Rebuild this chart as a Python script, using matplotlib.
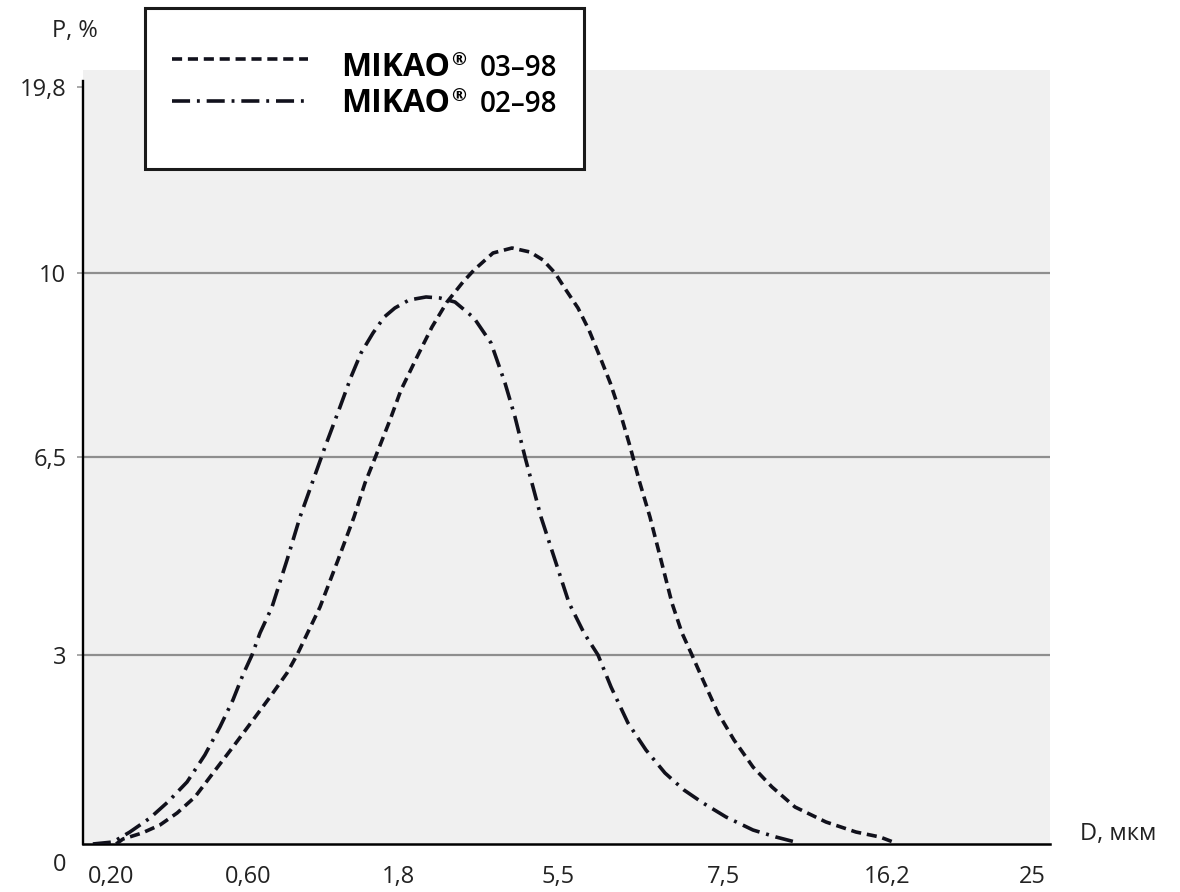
import numpy as np
import matplotlib
matplotlib.use("Agg")
import matplotlib.pyplot as plt
from matplotlib.scale import FuncScale
from matplotlib.patches import Rectangle
from matplotlib.lines import Line2D

plt.rcParams['font.family'] = ['Open Sans', 'DejaVu Sans']

# ---------------- data ----------------
x_tick_values = [0.20, 0.60, 1.8, 5.5, 7.5, 16.2, 25]
x_tick_labels = ["0,20", "0,60", "1,8", "5,5", "7,5", "16,2", "25"]
y_tick_values = [3, 6.5, 10, 19.8]
y_tick_labels = ["3", "6,5", "10", "19,8"]
grid_values = [3, 6.5, 10]

series_names = ["03–98", "02–98"]

d_03_98 = [0.215, 0.235, 0.291, 0.343, 0.393, 0.445, 0.498, 0.556, 0.64, 0.776,
           0.912, 0.992, 1.176, 1.32, 1.448, 1.536, 1.632, 1.736, 1.869, 2.239,
           2.586, 2.933, 3.303, 3.558, 3.997, 4.436, 4.853, 5.153, 5.431, 5.596,
           5.741, 5.873, 6.006, 6.130, 6.250, 6.370, 6.476, 6.608, 6.741, 6.873,
           6.994, 7.114, 7.247, 7.428, 8.034, 9.048, 10.062, 11.290, 12.944,
           14.545, 15.826, 16.686]
p_03_98 = [0.0, 0.079, 0.175, 0.302, 0.492, 0.746, 1.127, 1.540, 1.968, 2.333,
           2.714, 3.0, 3.848, 4.679, 5.439, 6.040, 6.576, 7.204, 7.774, 8.402,
           8.973, 9.448, 9.829, 10.158, 11.054, 11.317, 11.106, 10.685, 10.0, 9.677,
           9.334, 8.916, 8.402, 7.908, 7.337, 6.690, 6.093, 5.439, 4.679, 3.919,
           3.389, 3.0, 2.603, 2.079, 1.651, 1.222, 0.905, 0.587, 0.349,
           0.190, 0.111, 0.02]

d_02_98 = [0.147, 0.206, 0.255, 0.314, 0.366, 0.422, 0.474, 0.518, 0.556, 0.585,
           0.632, 0.696, 0.792, 0.912, 1.016, 1.216, 1.336, 1.424, 1.504, 1.600,
           1.690, 1.775, 2.054, 2.448, 2.771, 3.118, 3.558, 3.951, 4.274, 4.506,
           4.737, 4.922, 5.107, 5.431, 5.633, 5.813, 5.982, 6.139, 6.343, 6.560,
           6.789, 7.018, 7.247, 7.607, 9.048, 10.275, 11.503]
p_02_98 = [0.0, 0.032, 0.190, 0.413, 0.667, 0.984, 1.413, 1.857, 2.286, 2.683,
           3.0, 3.389, 3.848, 4.679, 5.439, 6.690, 7.451, 8.022, 8.478, 8.859,
           9.163, 9.334, 9.486, 9.544, 9.524, 9.448, 9.144, 8.669, 7.908, 7.261,
           6.5, 5.970, 5.439, 4.679, 3.919, 3.389, 3.0, 2.492, 1.921, 1.492,
           1.127, 0.857, 0.651, 0.429, 0.222, 0.111, 0.016]

# ---------------- layout (pixel geometry of the reference) ----------------
W, H = 1180, 892
X_TICK_POS = [111, 248, 398, 558, 724, 887, 1032]   # px of x ticks
Y_TICK_POS = [844, 655, 457, 273, 87]               # px of y = 0,3,6.5,10,19.8
AX_L, AX_R, AX_T, AX_B = 83, 1050, 70, 844


def piecewise(xk, yk):
    xk = np.asarray(xk, float)
    yk = np.asarray(yk, float)
    s0 = (yk[1] - yk[0]) / (xk[1] - xk[0])
    s1 = (yk[-1] - yk[-2]) / (xk[-1] - xk[-2])

    def f(v):
        v = np.asarray(v, float)
        out = np.interp(v, xk, yk)
        out = np.where(v < xk[0], yk[0] + (v - xk[0]) * s0, out)
        out = np.where(v > xk[-1], yk[-1] + (v - xk[-1]) * s1, out)
        return out
    return f


x_fwd = piecewise(x_tick_values, X_TICK_POS)
x_inv = piecewise(X_TICK_POS, x_tick_values)
y_vals_all = [0] + y_tick_values
y_h = [AX_B - p for p in Y_TICK_POS]
y_fwd = piecewise(y_vals_all, y_h)
y_inv = piecewise(y_h, y_vals_all)

fig = plt.figure(figsize=(W / 100, H / 100), dpi=100)
fig.patch.set_facecolor("white")
ax = fig.add_axes([AX_L / W, 1 - AX_B / H, (AX_R - AX_L) / W, (AX_B - AX_T) / H])
ax.set_facecolor("#f0f0f0")

ax.set_xscale(FuncScale(ax.xaxis, (x_fwd, x_inv)))
ax.set_yscale(FuncScale(ax.yaxis, (y_fwd, y_inv)))
ax.set_xlim(float(x_inv(AX_L)), float(x_inv(AX_R)))
ax.set_ylim(0, float(y_inv(AX_B - AX_T)))

for g in grid_values:
    ax.axhline(g, color="#8e8e8e", lw=1.6, zorder=1)

line_color = "#11111c"
lw = 2.6
ls_dash = (0, (2.8, 1.6))
ls_dashdot = (0, (5.0, 1.9, 0.8, 1.9))
ax.plot(d_03_98, p_03_98, color=line_color, lw=lw, linestyle=ls_dash,
        zorder=3, dash_joinstyle="round", dash_capstyle="butt")
ax.plot(d_02_98, p_02_98, color=line_color, lw=lw, linestyle=ls_dashdot,
        zorder=3, dash_joinstyle="round", dash_capstyle="butt")

for s in ["top", "right"]:
    ax.spines[s].set_visible(False)
ax.spines["left"].set_linewidth(1.7)
ax.spines["bottom"].set_linewidth(1.8)
ax.spines["left"].set_bounds(0, 19.8 + 0.3)

ax.set_xticks(x_tick_values)
ax.set_xticklabels(x_tick_labels)
ax.set_yticks(y_tick_values)
ax.set_yticklabels(y_tick_labels)
ax.xaxis.set_minor_locator(matplotlib.ticker.NullLocator())
ax.yaxis.set_minor_locator(matplotlib.ticker.NullLocator())
ax.tick_params(axis="x", length=0, pad=15, labelsize=17, labelcolor="#222222")
ax.tick_params(axis="y", length=4, width=1.2, color="#999999", pad=8,
               labelsize=17, labelcolor="#222222")


def F(x, y):
    return (x / W, 1 - y / H)


fig.text(*F(60, 865), "0", ha="center", va="center", fontsize=17, color="#222222")
fig.text(*F(98, 31), "P, %", ha="right", va="center", fontsize=17, color="#222222")
fig.text(*F(1080, 834), "D, мкм", ha="left", va="center", fontsize=17, color="#222222")

# legend box
fig.add_artist(Rectangle(F(145, 169), (584 - 145) / W, (169 - 8) / H,
                         transform=fig.transFigure, facecolor="white",
                         edgecolor="#1a1a1a", lw=2.2, zorder=5))
renderer = fig.canvas.get_renderer()
rows = [(59, 76, ls_dash), (101, 112, ls_dashdot)]
for name, (ly, by, ls) in zip(series_names, rows):
    x0, y0 = F(172, ly)
    x1, _ = F(308, ly)
    fig.add_artist(Line2D([x0, x1], [y0, y0], transform=fig.transFigure,
                          color=line_color, lw=lw, linestyle=ls, zorder=6))
    t = fig.text(*F(341, by), "MIKAO", ha="left", va="baseline", fontsize=23,
                 fontweight="bold", color="black", zorder=7)
    x_end = t.get_window_extent(renderer).x1
    fig.text(x_end / W + 1 / W, 1 - (by - 11) / H, "®", ha="left", va="baseline",
             fontsize=13, fontweight="bold", color="black", zorder=7)
    fig.text(*F(480, by), name, ha="left", va="baseline", fontsize=20,
             fontweight="semibold", color="black", zorder=7)

fig.savefig("out.png", dpi=100, facecolor="white")
